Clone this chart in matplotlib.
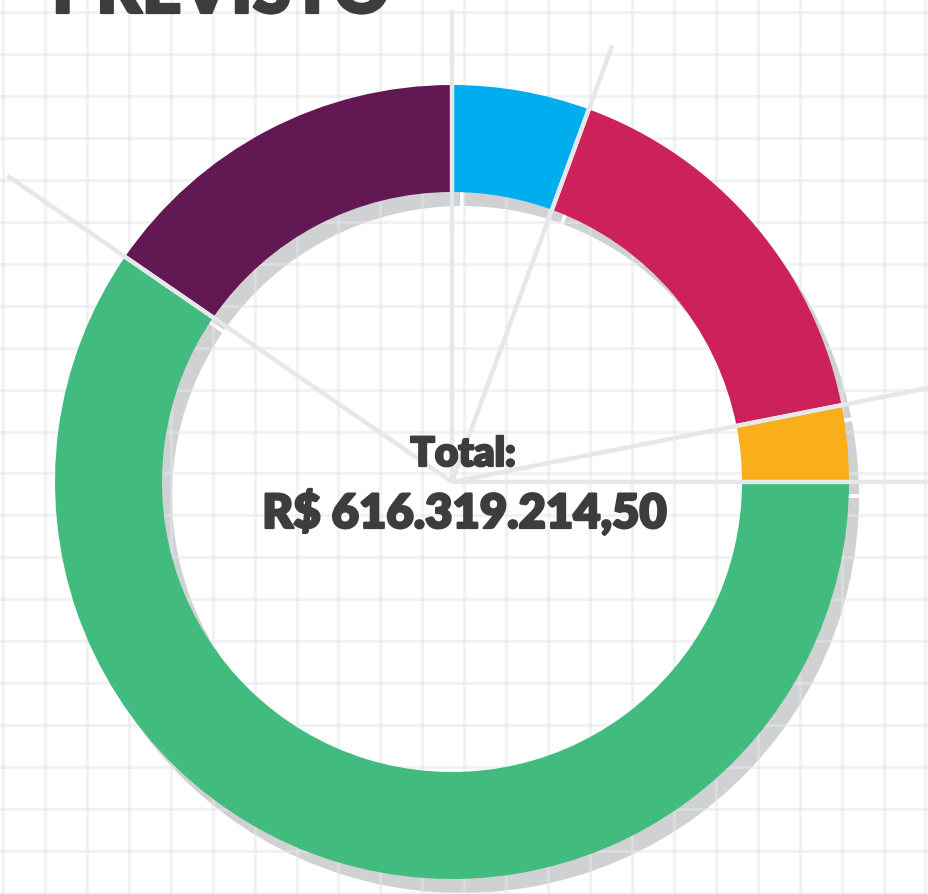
import numpy as np
import matplotlib.pyplot as plt
import matplotlib.patheffects as pe

# shares of the total (percent), clockwise from the top
segments = ["Azul", "Vermelho", "Amarelo", "Verde", "Roxo"]
shares = [5.6, 16.3, 3.1, 59.6, 15.4]
colors = ["#00aeef", "#cd215b", "#f9ae1b", "#42bb7f", "#621852"]

title = "PREVISTO"
total_label = "Total:"
total_value = "R$ 616.319.214,50"

# length of the leader line at each segment boundary (px)
leader_len = [472, 465, 560, 560, 540]

W, H = 929, 894
cx, cy = 452, H - 482
R, ring_w = 397, 107
sdx, sdy = 10, -14
text_color = "#3d3d3d"


def gaps(ax, x0, y0, angles, z):
    # white separators between the segments
    for ang in angles:
        a = np.deg2rad(90 - ang)
        r = np.array([R - ring_w - 2, R + 2])
        ax.plot(x0 + r * np.cos(a), y0 + r * np.sin(a), color="white",
                lw=2.8, solid_capstyle="butt", zorder=z)


def main():
    fig = plt.figure(figsize=(W / 100, H / 100), dpi=100)
    ax = fig.add_axes([0, 0, 1, 1])
    bounds = np.concatenate([[0], np.cumsum(shares)[:-1]]) / 100 * 360

    # shadow
    ax.pie(shares, startangle=90, counterclock=False, radius=R,
           center=(cx + sdx, cy + sdy), colors=["#d0d1d3"] * len(shares),
           wedgeprops=dict(width=ring_w, edgecolor="none", zorder=1),
           frame=True)
    gaps(ax, cx + sdx, cy + sdy, bounds, 1.5)

    # background grid, drawn over the shadow
    for x in np.arange(3, W, 41.93):
        ax.axvline(x, color="#e5e6e9", alpha=0.5, lw=2.2, zorder=2)
    for y in np.arange(12, H, 41.95):
        ax.axhline(H - y, color="#e5e6e9", alpha=0.5, lw=2.2, zorder=2)

    # ring
    ax.pie(shares, startangle=90, counterclock=False, radius=R,
           center=(cx, cy), colors=colors,
           wedgeprops=dict(width=ring_w, edgecolor="none", zorder=3),
           frame=True)
    gaps(ax, cx, cy, bounds, 3.5)

    # leader lines at each boundary
    for ang, ln in zip(bounds, leader_len):
        a = np.deg2rad(90 - ang)
        ax.plot([cx, cx + ln * np.cos(a)], [cy, cy + ln * np.sin(a)],
                color="#e6e7e9", lw=3.2, solid_capstyle="butt", zorder=4)

    heavy = [pe.withStroke(linewidth=1.6, foreground=text_color)]
    ax.text(463, H - 466, total_label, ha="center", va="baseline",
            fontsize=29, fontweight="heavy", family="Lato", color=text_color,
            zorder=5, path_effects=heavy)
    ax.text(465, H - 528, total_value, ha="center", va="baseline",
            fontsize=34, fontweight="heavy", family="Lato", color=text_color,
            zorder=5, path_effects=heavy)
    ax.text(52, H - 13, title, ha="left", va="baseline",
            fontsize=50, fontweight="heavy", family="Lato", color=text_color,
            zorder=5, path_effects=heavy)

    ax.set_xlim(0, W)
    ax.set_ylim(0, H)
    ax.set_aspect("auto")
    ax.axis("off")
    fig.savefig("out.png", dpi=100)


if __name__ == "__main__":
    main()
